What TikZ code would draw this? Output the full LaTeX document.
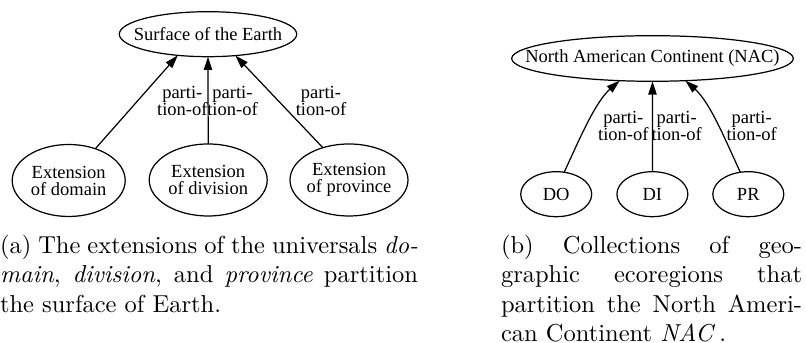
\documentclass[tikz,border=0pt]{standalone}
\usepackage{fontspec}
\newfontfamily\gvfont{Liberation Serif}
\usetikzlibrary{arrows.meta,shapes.geometric}
\def\PX{0.408163pt}
\newcommand\cbx[1]{\makebox[0pt]{#1}}
\begin{document}
\begin{tikzpicture}[x=\PX,y=-\PX,
  every node/.style={inner sep=0pt, outer sep=0pt},
  gvnode/.style={draw, ellipse, line width=0.5pt, align=center,
    font=\gvfont\fontsize{7.55}{6.94}\selectfont},
  lbl/.style={align=center, anchor=base,
    font=\gvfont\fontsize{7.55}{6.94}\selectfont},
  arr/.style={line width=0.5pt, -{Triangle[length=5.4pt,width=3.4pt]}},
  captext/.style={anchor=base west, font=\fontsize{10}{12}\selectfont}]
\useasboundingbox (0,0) rectangle (806,343);

% (a) left diagram
\node[gvnode, minimum width=177.4*\PX, minimum height=45*\PX] (top) at (208,34.2) {\cbx{Surface of the Earth}};
\node[gvnode, minimum width=113*\PX, minimum height=72*\PX] (e1) at (68.7,180.5) {\cbx{Extension}\\\cbx{of domain}};
\node[gvnode, minimum width=118*\PX, minimum height=72*\PX] (e2) at (208.2,180) {\cbx{Extension}\\\cbx{of division}};
\node[gvnode, minimum width=118*\PX, minimum height=72*\PX] (e3) at (349,180) {\cbx{Extension}\\\cbx{of province}};

\draw[arr] (e1.50) -- (top.215);
\draw[arr] (e2.north) -- (top.south);
\draw[arr] (e3.129) -- (top.322);

\node[lbl] (l1) at (182.3,116) {parti-\\tion-of};
\node[lbl] (l2) at (232.5,116) {parti-\\tion-of};
\node[lbl] (l3) at (321,116) {parti-\\tion-of};

% (b) right diagram
\node[gvnode, minimum width=281.6*\PX, minimum height=45.6*\PX] (NAC) at (652.5,58.5) {\cbx{North American Continent (NAC)}};
\node[gvnode, minimum width=71*\PX, minimum height=45*\PX] (DO) at (556.2,194.2) {\cbx{DO}};
\node[gvnode, minimum width=71*\PX, minimum height=45*\PX] (DI) at (652.4,194.2) {\cbx{DI}};
\node[gvnode, minimum width=71*\PX, minimum height=45*\PX] (PR) at (748.3,194.2) {\cbx{PR}};

\draw[arr] (DO.70) .. controls +(14,-30) and +(-25,22) .. (NAC.214);
\draw[arr] (DI.north) -- (NAC.south);
\draw[arr] (PR.110) .. controls +(-14,-30) and +(25,22) .. (NAC.326);

\node[lbl] (r1) at (623.3,141) {parti-\\tion-of};
\node[lbl] (r2) at (676.7,141) {parti-\\tion-of};
\node[lbl] (r3) at (751.7,141) {parti-\\tion-of};

% captions
\node[captext] (capa) at (0,253.3) {\parbox[t]{170.6pt}{%
\hbox to\linewidth{(a) The extensions of the universals \emph{do-}}%
\hbox to\linewidth{\emph{main}, \emph{division}, and \emph{province} partition}%
\hbox{the surface of Earth.}}};
\node[captext] (capb) at (501,253.3) {\parbox[t]{122.9pt}{%
\hbox to\linewidth{(b) Collections of geo-}%
\hbox to\linewidth{graphic ecoregions that}%
\hbox to\linewidth{partition the North Ameri-}%
\hbox{can Continent \emph{NAC}\,.}}};
\end{tikzpicture}
\end{document}
